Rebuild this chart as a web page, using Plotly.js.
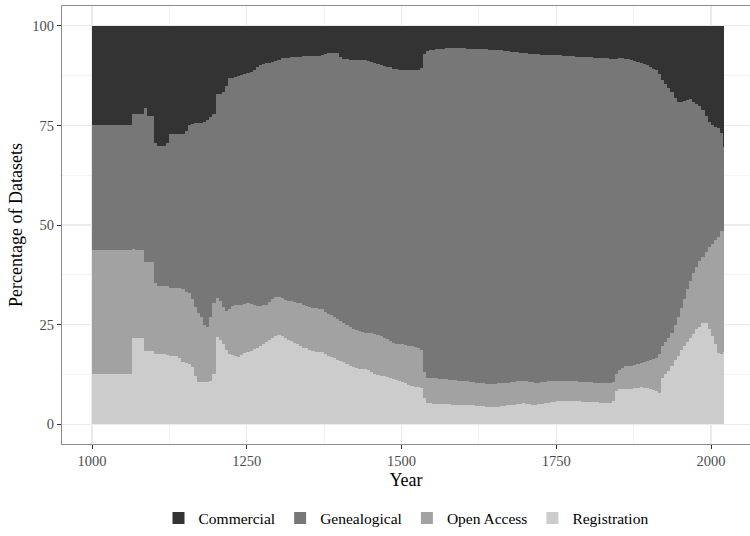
<!DOCTYPE html>
<html>
<head>
<meta charset="utf-8">
<script src="https://cdn.plot.ly/plotly-3.0.1.min.js"></script>
<style>html,body{margin:0;padding:0;background:#fff;}#chart{width:750px;height:536px;}</style>
</head>
<body>
<div id="chart"></div>
<script>
// Start year of each 5-year group (the last group holds 2020-2021)
const years = [
 1000,1005,1010,1015,1020,1025,1030,1035,1040,1045,
 1050,1055,1060,1065,1070,1075,1080,1085,1090,1095,
 1100,1105,1110,1115,1120,1125,1130,1135,1140,1145,
 1150,1155,1160,1165,1170,1175,1180,1185,1190,1195,
 1200,1205,1210,1215,1220,1225,1230,1235,1240,1245,
 1250,1255,1260,1265,1270,1275,1280,1285,1290,1295,
 1300,1305,1310,1315,1320,1325,1330,1335,1340,1345,
 1350,1355,1360,1365,1370,1375,1380,1385,1390,1395,
 1400,1405,1410,1415,1420,1425,1430,1435,1440,1445,
 1450,1455,1460,1465,1470,1475,1480,1485,1490,1495,
 1500,1505,1510,1515,1520,1525,1530,1535,1540,1545,
 1550,1555,1560,1565,1570,1575,1580,1585,1590,1595,
 1600,1605,1610,1615,1620,1625,1630,1635,1640,1645,
 1650,1655,1660,1665,1670,1675,1680,1685,1690,1695,
 1700,1705,1710,1715,1720,1725,1730,1735,1740,1745,
 1750,1755,1760,1765,1770,1775,1780,1785,1790,1795,
 1800,1805,1810,1815,1820,1825,1830,1835,1840,1845,
 1850,1855,1860,1865,1870,1875,1880,1885,1890,1895,
 1900,1905,1910,1915,1920,1925,1930,1935,1940,1945,
 1950,1955,1960,1965,1970,1975,1980,1985,1990,1995,
 2000,2005,2010,2015,2020
];

const commercial = [
 25,25,25,25,25,25,25,25,25,25,
 25,25,25,22,22,22,22,20.5,22.6,22.6,
 29.5,30.2,30.2,30.2,29.5,27.2,27.2,27.2,27.2,27.2,
 26.5,24.9,24.7,24.4,24.4,24.3,24.2,23.6,23,22.2,
 17.2,17.2,16.5,15,13.2,13,12.8,12.6,12.4,12.2,
 11.9,11.5,11,10.2,9.8,9.6,9.4,9.2,9,8.9,
 8.6,8.1,8,8,7.9,7.8,7.8,7.7,7.6,7.6,
 7.6,7.6,7.6,7.5,7.4,7.1,6.9,6.8,6.7,6.8,
 7.8,8.3,8.4,8.5,8.5,8.5,8.6,8.6,8.6,8.7,
 9,9.3,9.5,9.7,10,10.2,10.4,10.7,10.9,11,
 11.1,11.1,11.1,11.1,11.1,11,10.5,7,6.2,6.1,
 6,5.9,5.8,5.7,5.6,5.6,5.6,5.6,5.6,5.6,
 5.6,5.7,5.7,5.8,5.8,5.8,5.9,5.9,6,6,
 6.1,6.1,6.1,6.2,6.4,6.5,6.6,6.6,6.7,6.8,
 6.9,7,7,7.1,7.1,7.2,7.2,7.2,7.2,7.3,
 7.4,7.4,7.5,7.5,7.6,7.6,7.7,7.7,7.8,7.8,
 7.9,7.9,8,8,8.1,8.1,8.1,8.2,8.2,8.2,
 8.1,8.1,8.2,8.4,8.6,8.8,9,9.2,9.5,9.9,
 10.3,10.7,11.1,12,13.5,14.5,15.5,16.7,18.2,19,
 19.2,18.9,18.6,18.4,19,19.7,20.1,21,22.5,24.2,
 25,25.3,25.7,27,30.5
];

const genealogical = [
 31.3,31.3,31.3,31.3,31.3,31.3,31.3,31.3,31.3,31.3,
 31.3,31.3,31.3,34,34.3,34.3,34.3,38.7,36.6,36.6,
 35,35,35,35,35.7,38.5,38.5,38.5,38.5,38.8,
 40.3,42.2,43.8,46.1,47.6,48.9,50.8,52,50,47.3,
 51.1,51.9,54,56.6,57.8,57.4,57.4,57.4,57.6,57.6,
 57.7,58.3,59.2,60.2,60.5,60.5,60.6,60.2,59.7,59.3,
 59.4,60.3,60.8,61,61.3,61.5,61.7,62,62.4,62.7,
 62.9,63.2,63.3,63.5,63.8,64.7,65.5,65.7,66.3,66.8,
 66.3,66.3,66.8,67.2,67.5,67.8,68,68.2,68.4,68.4,
 68.2,68,68.2,68.3,68.3,68.5,68.8,68.9,68.9,69,
 68.9,69,69.2,69.3,69.5,69.8,71,80,82.1,82.2,
 82.4,82.6,82.8,83,83.2,83.3,83.4,83.4,83.5,83.6,
 83.6,83.6,83.7,83.7,83.8,83.9,83.9,84,83.9,83.9,
 83.8,83.7,83.6,83.5,83.2,83,82.8,82.6,82.4,82.4,
 82.4,82.4,82.5,82.5,82.5,82.3,82.2,82.1,82,81.8,
 81.8,81.8,81.7,81.6,81.5,81.6,81.6,81.7,81.6,81.7,
 81.6,81.6,81.6,81.6,81.6,81.6,81.7,81.6,81.2,79.2,
 78.4,77.7,77.3,77,76.7,76.4,76,75.5,75,74.3,
 73.7,73,72.2,70.5,67,65,62.8,60.3,57,54,
 51.6,49.6,47.4,45.6,43,40.8,38.9,37,34.2,31.3,
 29.7,28.5,27.3,24.5,21
];

const openAccess = [
 31.2,31.2,31.2,31.2,31.2,31.2,31.2,31.2,31.2,31.2,
 31.2,31.2,31.2,22.3,22,22,22,22.4,22.4,22.4,
 18,17.3,17.3,17.3,17.5,17.1,17.1,17.1,17.8,18.5,
 17.9,17.7,17.2,17.5,17.5,16.3,14.5,13.9,16.1,18,
 9.8,9.8,9.5,9.8,11.4,12.3,12.8,13.1,12.6,12.4,
 12.4,11.8,11,10.4,10.1,9.9,9.4,9.6,9.8,9.6,
 9.5,9.6,9.6,9.8,10,10.3,10.5,10.7,10.8,10.7,
 10.9,10.8,10.9,10.8,10.8,10.6,10.4,10.6,10.3,10.2,
 10.1,9.9,9.8,9.7,9.6,9.6,9.6,9.4,9.2,9.3,
 9.8,10.2,10,9.8,9.7,9.5,9.3,9.1,9.2,9.2,
 9.4,9.7,9.9,10.1,10.1,10,9.5,6.5,6.3,6.5,
 6.5,6.4,6.3,6.3,6.2,6.1,6.1,6.1,6,6,
 6,6,5.9,5.8,5.8,5.8,5.7,5.7,5.7,5.8,
 5.8,5.8,5.8,5.7,5.7,5.7,5.7,5.8,5.8,5.6,
 5.6,5.6,5.6,5.5,5.4,5.4,5.4,5.3,5.3,5.3,
 5.1,5.1,5,5.1,5,4.9,4.9,4.9,5,4.9,
 4.9,4.9,4.9,4.9,4.9,4.9,4.8,4.9,4.8,4.2,
 4.6,5.3,5.6,5.7,5.8,5.8,5.9,6.1,6.4,6.8,
 7.2,7.7,8.5,9.7,8,8,8.4,8.5,8.8,10,
 10.7,12,13.5,14.5,15.3,15.7,16.5,16.7,17.8,20.7,
 23.3,26.2,29.2,31,30.5
];

const registration = [
 12.5,12.5,12.5,12.5,12.5,12.5,12.5,12.5,12.5,12.5,
 12.5,12.5,12.5,21.7,21.7,21.7,21.7,18.4,18.4,18.4,
 17.5,17.5,17.5,17.5,17.3,17.2,17.2,17.2,16.5,15.5,
 15.3,15.2,14.3,12,10.5,10.5,10.5,10.5,10.9,12.5,
 21.9,21.1,20,18.6,17.6,17.3,17,16.9,17.4,17.8,
 18,18.4,18.8,19.2,19.6,20,20.6,21,21.5,22.2,
 22.5,22,21.6,21.2,20.8,20.4,20,19.6,19.2,19,
 18.6,18.4,18.2,18.2,18,17.6,17.2,16.9,16.7,16.2,
 15.8,15.5,15,14.6,14.4,14.1,13.8,13.8,13.8,13.6,
 13,12.5,12.3,12.2,12,11.8,11.5,11.3,11,10.8,
 10.6,10.2,9.8,9.5,9.3,9.2,9,6.5,5.4,5.2,
 5.1,5.1,5.1,5,5,5,4.9,4.9,4.9,4.8,
 4.8,4.7,4.7,4.7,4.6,4.5,4.5,4.4,4.4,4.3,
 4.3,4.4,4.5,4.6,4.7,4.8,4.9,5,5.1,5.2,
 5.1,5,4.9,4.9,5,5.1,5.2,5.4,5.5,5.6,
 5.7,5.7,5.8,5.8,5.9,5.9,5.8,5.7,5.6,5.6,
 5.6,5.6,5.5,5.5,5.4,5.4,5.4,5.3,5.8,8.4,
 8.9,8.9,8.9,8.9,8.9,9,9.1,9.2,9.1,9,
 8.8,8.6,8.2,7.8,11.5,12.5,13.3,14.5,16,17,
 18.5,19.5,20.5,21.5,22.7,23.8,24.5,25.3,25.5,23.8,
 22,20,17.8,17.5,18
];

const seriesNames = ['Registration', 'Open Access', 'Genealogical', 'Commercial'];
const seriesValues = [registration, openAccess, genealogical, commercial];
const seriesColors = ['#CCCCCC', '#A2A2A2', '#777777', '#333333'];

const tickYears = [1000, 1250, 1500, 1750, 2000];
const tickPct = [0, 25, 50, 75, 100];

// bar geometry: each group spans its years; last group is 2 years wide
const widths = years.map((y, i) => (i === years.length - 1 ? 2 : 5));
const centers = years.map((y, i) => y + (widths[i] - 1) / 2);

const FONT = 'Liberation Serif, Times New Roman, serif';

const traces = seriesNames.map((name, k) => ({
  type: 'bar',
  name: name,
  x: centers,
  y: seriesValues[k],
  width: widths,
  marker: {color: seriesColors[k], line: {width: 0}},
  hoverinfo: 'x+y+name'
}));

const layout = {
  width: 750,
  height: 536,
  margin: {l: 62, r: 0, t: 6, b: 89},
  paper_bgcolor: '#ffffff',
  plot_bgcolor: '#ffffff',
  barmode: 'stack',
  bargap: 0,
  font: {family: FONT, color: '#000000'},
  showlegend: true,
  legend: {
    orientation: 'h',
    x: 0.5, xanchor: 'center',
    y: -0.17, yanchor: 'middle',
    traceorder: 'reversed',
    font: {family: FONT, size: 15.5, color: '#000000'},
    itemwidth: 30
  },
  xaxis: {
    range: [951.5, 2063],
    tickmode: 'array',
    tickvals: tickYears,
    ticktext: tickYears.map(String),
    ticks: 'outside', ticklen: 4, tickwidth: 1, tickcolor: '#333333',
    tickfont: {family: FONT, size: 14.5, color: '#4D4D4D'},
    showgrid: true, gridcolor: '#EBEBEB', gridwidth: 1.1,
    minor: {dtick: 125, tick0: 1000, showgrid: true, gridcolor: '#EBEBEB', gridwidth: 0.55, ticks: ''},
    zeroline: false,
    showline: true, linecolor: '#8C8C8C', linewidth: 1, mirror: true,
    title: {text: 'Year', font: {family: FONT, size: 18, color: '#000000'}, standoff: 4},
    fixedrange: true
  },
  yaxis: {
    range: [-5, 105],
    tickmode: 'array',
    tickvals: tickPct,
    ticktext: tickPct.map(String),
    ticks: 'outside', ticklen: 4, tickwidth: 1, tickcolor: '#333333',
    tickfont: {family: FONT, size: 14.5, color: '#4D4D4D'},
    showgrid: true, gridcolor: '#EBEBEB', gridwidth: 1.1,
    minor: {dtick: 12.5, tick0: 0, showgrid: true, gridcolor: '#EBEBEB', gridwidth: 0.55, ticks: ''},
    zeroline: false,
    showline: true, linecolor: '#8C8C8C', linewidth: 1, mirror: false,
    title: {text: 'Percentage of Datasets', font: {family: FONT, size: 18, color: '#000000'}, standoff: 5},
    fixedrange: true
  }
};

Plotly.newPlot('chart', traces, layout, {displayModeBar: false, staticPlot: true});
</script>
</body>
</html>
